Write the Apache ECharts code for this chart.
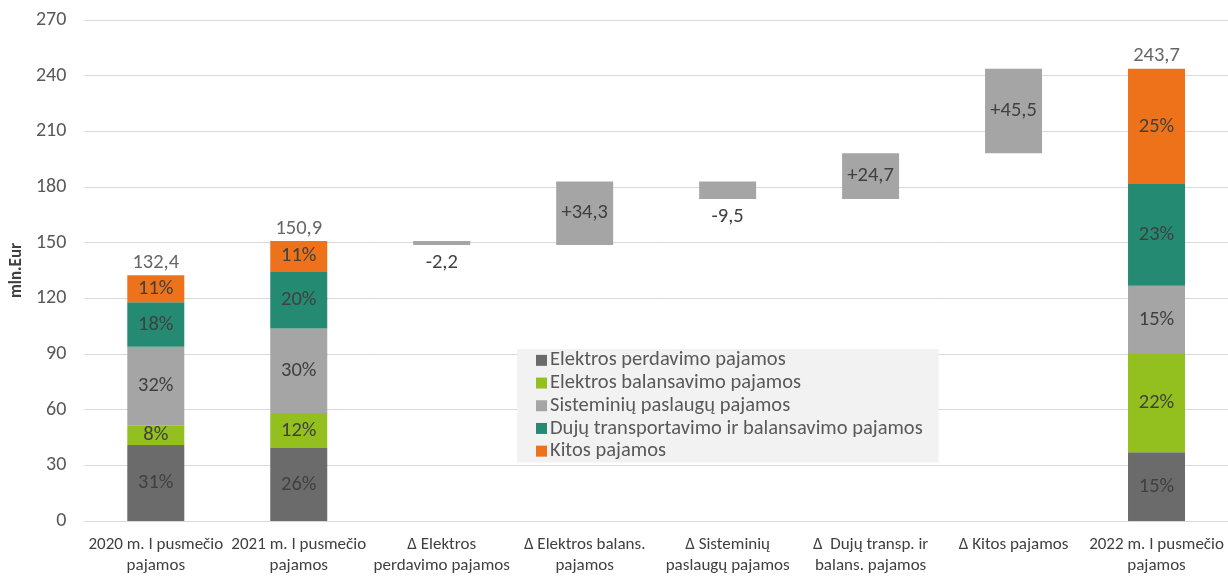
<!DOCTYPE html>
<html>
<head>
<meta charset="utf-8">
<script src="https://cdn.jsdelivr.net/npm/echarts@6/dist/echarts.min.js"></script>
<style>
html,body{margin:0;padding:0;background:#fff;}
#chart{width:1228px;height:576px;}
</style>
</head>
<body>
<div id="chart"></div>
<script>
var categories = [
  "2020 m. I pusmečio\npajamos",
  "2021 m. I pusmečio\npajamos",
  "Δ Elektros\nperdavimo pajamos",
  "Δ Elektros balans.\npajamos",
  "Δ Sisteminių\npaslaugų pajamos",
  "Δ  Dujų transp. ir\nbalans. pajamos",
  "Δ Kitos pajamos",
  "2022 m. I pusmečio\npajamos"
];
var seriesNames = [
  "Elektros perdavimo pajamos",
  "Elektros balansavimo pajamos",
  "Sisteminių paslaugų pajamos",
  "Dujų transportavimo ir balansavimo pajamos",
  "Kitos pajamos"
];
// values for the stacked (total) columns: 2020, 2021, 2022
var elektrosPerdavimo   = [41.0, 39.3, 37.0];
var elektrosBalansavimo = [10.3, 18.9, 53.0];
var sisteminiu          = [42.6, 45.5, 36.8];
var duju                = [24.0, 30.9, 54.8];
var kitos               = [14.5, 16.3, 62.1];
var percentLabels = [
  ["31%", "26%", "15%"],
  ["8%", "12%", "22%"],
  ["32%", "30%", "15%"],
  ["18%", "20%", "23%"],
  ["11%", "11%", "25%"]
];
var totals = [132.4, 150.9, 243.7];
// waterfall changes between 2021 and 2022
var deltas = [-2.2, 34.3, -9.5, 24.7, 45.5];
var yTicks = {min: 0, max: 270, interval: 30};

var colors = ["#6b6b6b", "#93c01f", "#a5a5a5", "#258a72", "#ee7219"];
var FONT = 'Carlito, "Liberation Sans", sans-serif';
var stackIdx = [0, 1, 7];
var deltaIdx = [2, 3, 4, 5, 6];
function fmt(v){ return v.toFixed(1).replace('.', ','); }

var segData = [elektrosPerdavimo, elektrosBalansavimo, sisteminiu, duju, kitos];

// waterfall bases
var baseArr = categories.map(function(){ return '-'; });
var deltaArr = categories.map(function(){ return '-'; });
var running = totals[1];
deltas.forEach(function(d, i){
  var ci = deltaIdx[i];
  var next = running + d;
  baseArr[ci] = +Math.min(running, next).toFixed(2);
  var neg = d < 0;
  deltaArr[ci] = {
    value: Math.abs(d),
    label: {
      show: true,
      position: neg ? 'bottom' : 'inside',
      distance: 7,
      formatter: (d > 0 ? '+' : '') + fmt(d)
    }
  };
  running = next;
});

var series = [];
series.push({
  name: 'base', type: 'bar', stack: 'all', barWidth: 57,
  itemStyle: {color: 'transparent'}, silent: true,
  data: baseArr
});
seriesNames.forEach(function(n, k){
  var arr = categories.map(function(){ return '-'; });
  stackIdx.forEach(function(ci, j){
    arr[ci] = {value: segData[k][j], pct: percentLabels[k][j]};
  });
  series.push({
    name: n, type: 'bar', stack: 'all', barWidth: 57,
    itemStyle: {color: colors[k]},
    label: {
      show: true, position: 'inside', color: '#404040',
      fontFamily: FONT, fontSize: 20.5,
      formatter: function(p){ return p.data.pct; }
    },
    data: arr
  });
});
series.push({
  name: 'delta', type: 'bar', stack: 'all', barWidth: 57,
  itemStyle: {color: '#a5a5a5'},
  label: {color: '#404040', fontFamily: FONT, fontSize: 20.5},
  data: deltaArr
});
var totArr = categories.map(function(){ return '-'; });
stackIdx.forEach(function(ci, j){ totArr[ci] = totals[j]; });
series.push({
  name: 'total', type: 'scatter', symbolSize: 0, silent: true,
  label: {
    show: true, position: 'top', distance: 2, color: '#404040',
    fontFamily: FONT, fontSize: 20.5,
    formatter: function(p){ return fmt(p.value); }
  },
  data: totArr
});

var chart = echarts.init(document.getElementById('chart'));
chart.setOption({
  animation: false,
  textStyle: {fontFamily: FONT},
  grid: {left: 83, right: -2, top: 20, bottom: 52, containLabel: false},
  legend: {
    data: seriesNames,
    orient: 'vertical',
    left: 517, top: 349,
    backgroundColor: '#f2f2f2',
    padding: [0, 16, 0, 19],
    itemWidth: 11, itemHeight: 11, itemGap: 0,
    icon: 'rect',
    textStyle: {color: '#595959', fontSize: 20.5, lineHeight: 22.7, fontFamily: FONT, padding: [0,0,0,-2]}
  },
  xAxis: {
    type: 'category', data: categories,
    axisLine: {lineStyle: {color: '#d9d9d9', width: 1}},
    axisTick: {show: false},
    axisLabel: {color: '#404040', fontSize: 17, lineHeight: 21, margin: 13, interval: 0, fontFamily: FONT}
  },
  yAxis: {
    type: 'value', min: yTicks.min, max: yTicks.max, interval: yTicks.interval,
    name: 'mln.Eur', nameLocation: 'middle', nameGap: 58, nameRotate: 90,
    nameTextStyle: {color: '#404040', fontSize: 17, fontWeight: 'bold', fontFamily: FONT},
    axisLine: {show: false}, axisTick: {show: false},
    axisLabel: {color: '#595959', fontSize: 20, margin: 18, fontFamily: FONT},
    splitLine: {lineStyle: {color: '#d9d9d9', width: 1}}
  },
  series: series
});
</script>
</body>
</html>
